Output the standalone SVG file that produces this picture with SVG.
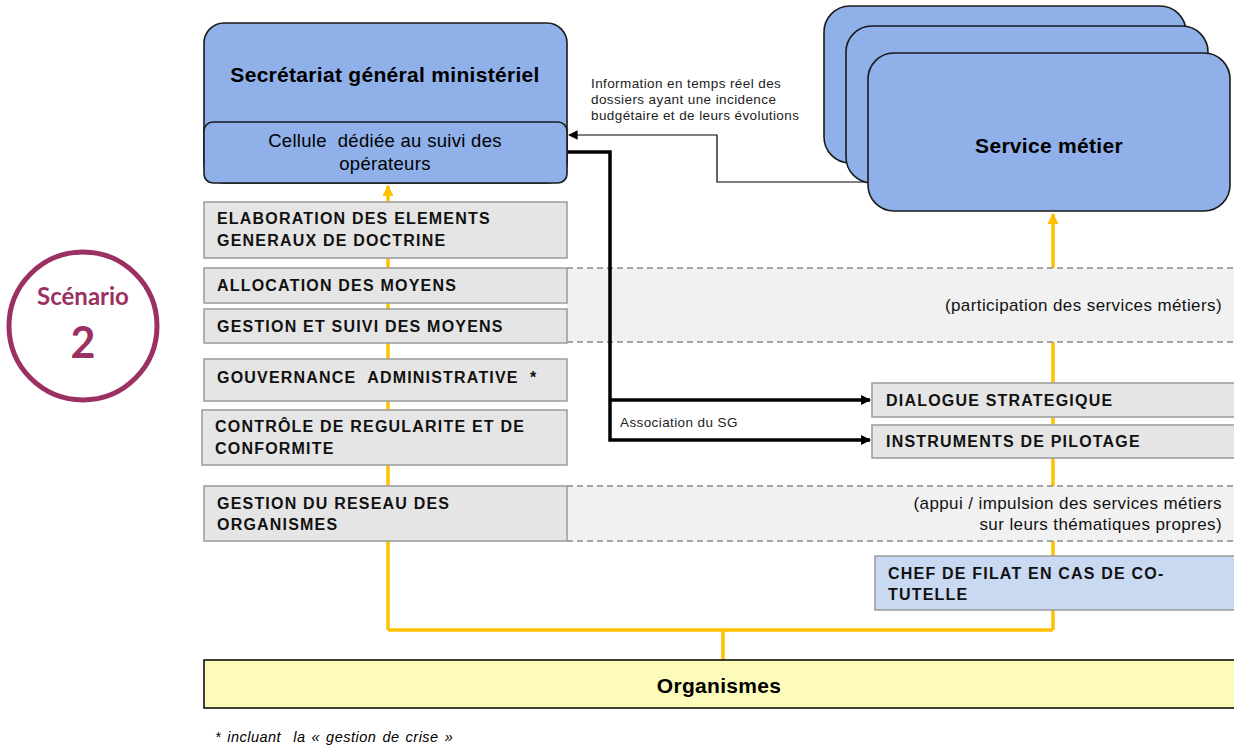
<svg xmlns="http://www.w3.org/2000/svg" width="1234" height="747" viewBox="0 0 1234 747">
  <defs>
    <style>
      .blue { fill: #8fb0e8; stroke: #1a1a1a; stroke-width: 1.6; }
      .func { fill: #e5e5e5; stroke: #9a9a9a; stroke-width: 1.5; }
      .band { fill: #f1f1f1; stroke: none; }
      .dash { stroke: #8c8c8c; stroke-width: 1.3; stroke-dasharray: 6 4; fill: none; }
      .flow { stroke: #ffc000; stroke-width: 3.5; fill: none; }
      .link { stroke: #000; stroke-width: 3.5; fill: none; }
      .thin { stroke: #000; stroke-width: 1.2; fill: none; }
      .t { font-family: "Liberation Sans", Arial, sans-serif; fill: #000; }
      .fb { font-family: "Liberation Sans", Arial, sans-serif; font-weight: bold; font-size: 16px; letter-spacing: 1.2px; fill: #111; }
      .note { font-family: "Liberation Sans", Arial, sans-serif; font-size: 13.5px; letter-spacing: 0.4px; fill: #222; }
      .par { font-family: "Liberation Sans", Arial, sans-serif; font-size: 17px; letter-spacing: 0.4px; fill: #111; text-anchor: end; }
    </style>
    <marker id="ahY" viewBox="0 0 10 10" refX="9" refY="5" markerWidth="3.2" markerHeight="3.2" orient="auto">
      <path d="M0,0 L10,5 L0,10 z" fill="#ffc000"/>
    </marker>
    <marker id="ahK" viewBox="0 0 10 10" refX="9" refY="5" markerWidth="3" markerHeight="3" orient="auto">
      <path d="M0,0 L10,5 L0,10 z" fill="#000"/>
    </marker>
    <marker id="ahT" viewBox="0 0 10 10" refX="9" refY="5" markerWidth="8" markerHeight="8" orient="auto">
      <path d="M0,0 L10,5 L0,10 z" fill="#000"/>
    </marker>
  </defs>

  <rect width="1234" height="747" fill="#fff"/>

  <!-- Scenario badge -->
  <g id="scenario">
    <circle cx="83" cy="326" r="74" fill="#fff" stroke="#9b3163" stroke-width="5"/>
    <text x="83" y="305" text-anchor="middle" font-family="Lato, 'Open Sans', sans-serif" font-weight="bold" font-size="24" fill="#9b3163">Scénario</text>
    <text x="83" y="358" text-anchor="middle" font-family="Lato, 'Open Sans', sans-serif" font-weight="bold" font-size="43" fill="#9b3163">2</text>
  </g>

  <!-- Yellow flows (drawn beneath the bands and boxes) -->
  <g id="flows">
    <path class="flow" d="M388,630 V186" marker-end="url(#ahY)"/>
    <path class="flow" d="M1053,630 V214" marker-end="url(#ahY)"/>
    <path class="flow" d="M388,630 H1053"/>
    <path class="flow" d="M723,630 V660"/>
  </g>

  <!-- Dashed bands -->
  <g id="band-participation">
    <rect class="band" x="567" y="268" width="667" height="74"/>
    <line class="dash" x1="567" y1="268" x2="1234" y2="268"/>
    <line class="dash" x1="567" y1="342" x2="1234" y2="342"/>
    <text class="par" x="1222" y="311">(participation des services métiers)</text>
  </g>
  <g id="band-appui">
    <rect class="band" x="567" y="486" width="667" height="55"/>
    <line class="dash" x1="567" y1="486" x2="1234" y2="486"/>
    <line class="dash" x1="567" y1="541" x2="1234" y2="541"/>
    <text class="par" x="1222" y="509">(appui / impulsion des services métiers</text>
    <text class="par" x="1222" y="530">sur leurs thématiques propres)</text>
  </g>

  <!-- Connectors -->
  <g id="connectors">
    <path class="link" d="M567,152 H610 V440 H870" marker-end="url(#ahK)"/>
    <path class="link" d="M610,400 H870" marker-end="url(#ahK)"/>
    <path class="thin" d="M868,182 H717 V135 H569" marker-end="url(#ahT)"/>
    <text class="note" x="591" y="88">Information en temps réel des</text>
    <text class="note" x="591" y="104">dossiers ayant une incidence</text>
    <text class="note" x="591" y="120">budgétaire et de leurs évolutions</text>
    <text class="note" x="620" y="427">Association du SG</text>
  </g>

  <!-- Secrétariat général -->
  <g id="sg">
    <rect class="blue" x="204" y="23" width="363" height="160" rx="20"/>
    <text class="t" x="385" y="82" text-anchor="middle" font-weight="bold" font-size="21" letter-spacing="0.3">Secrétariat général ministériel</text>
  </g>
  <g id="cellule">
    <rect class="blue" x="204" y="122" width="363" height="61" rx="9"/>
    <text class="t" x="385" y="147" text-anchor="middle" font-size="18.5" letter-spacing="0.3" xml:space="preserve">Cellule  dédiée au suivi des</text>
    <text class="t" x="385" y="170" text-anchor="middle" font-size="18.5" letter-spacing="0.3">opérateurs</text>
  </g>

  <!-- Service métier stack -->
  <g id="service-metier">
    <rect class="blue" x="824" y="6" width="362" height="157" rx="26"/>
    <rect class="blue" x="846" y="26" width="362" height="157" rx="26"/>
    <rect class="blue" x="868" y="53" width="362" height="158" rx="26"/>
    <text class="t" x="1049" y="153" text-anchor="middle" font-weight="bold" font-size="21" letter-spacing="0.3">Service métier</text>
  </g>

  <!-- Functions -->
  <g id="f-elaboration">
    <rect class="func" x="204" y="202" width="363" height="56"/>
    <text class="fb" x="217" y="224">ELABORATION DES ELEMENTS</text>
    <text class="fb" x="217" y="246">GENERAUX DE DOCTRINE</text>
  </g>
  <g id="f-allocation">
    <rect class="func" x="204" y="268" width="363" height="35"/>
    <text class="fb" x="217" y="291">ALLOCATION DES MOYENS</text>
  </g>
  <g id="f-gestion-moyens">
    <rect class="func" x="204" y="309" width="363" height="34"/>
    <text class="fb" x="217" y="332">GESTION ET SUIVI DES MOYENS</text>
  </g>
  <g id="f-gouvernance">
    <rect class="func" x="204" y="359" width="363" height="42"/>
    <text class="fb" x="217" y="383" xml:space="preserve">GOUVERNANCE  ADMINISTRATIVE  *</text>
  </g>
  <g id="f-controle">
    <rect class="func" x="202" y="410" width="365" height="55"/>
    <text class="fb" x="215" y="432">CONTRÔLE DE REGULARITE ET DE</text>
    <text class="fb" x="215" y="454">CONFORMITE</text>
  </g>
  <g id="f-reseau">
    <rect class="func" x="204" y="486" width="363" height="55"/>
    <text class="fb" x="217" y="509">GESTION DU RESEAU DES</text>
    <text class="fb" x="217" y="530">ORGANISMES</text>
  </g>
  <g id="f-dialogue">
    <rect class="func" x="872" y="383" width="366" height="34"/>
    <text class="fb" x="886" y="406">DIALOGUE STRATEGIQUE</text>
  </g>
  <g id="f-instruments">
    <rect class="func" x="872" y="425" width="366" height="33"/>
    <text class="fb" x="886" y="447">INSTRUMENTS DE PILOTAGE</text>
  </g>
  <g id="f-chef-filat">
    <rect x="875" y="556" width="363" height="54" fill="#c9d9f2" stroke="#9a9a9a" stroke-width="1.5"/>
    <text class="fb" x="888" y="579">CHEF DE FILAT EN CAS DE CO-</text>
    <text class="fb" x="888" y="600">TUTELLE</text>
  </g>

  <!-- Organismes -->
  <g id="organismes">
    <rect x="204" y="660" width="1034" height="48" fill="#fcfbb9" stroke="#111" stroke-width="1.6"/>
    <text class="t" x="719" y="693" text-anchor="middle" font-weight="bold" font-size="21" letter-spacing="0.3">Organismes</text>
  </g>

  <text class="t" x="215" y="742" font-style="italic" font-size="14.5" letter-spacing="0.5" word-spacing="1.5" xml:space="preserve">* incluant  la « gestion de crise »</text>
</svg>
